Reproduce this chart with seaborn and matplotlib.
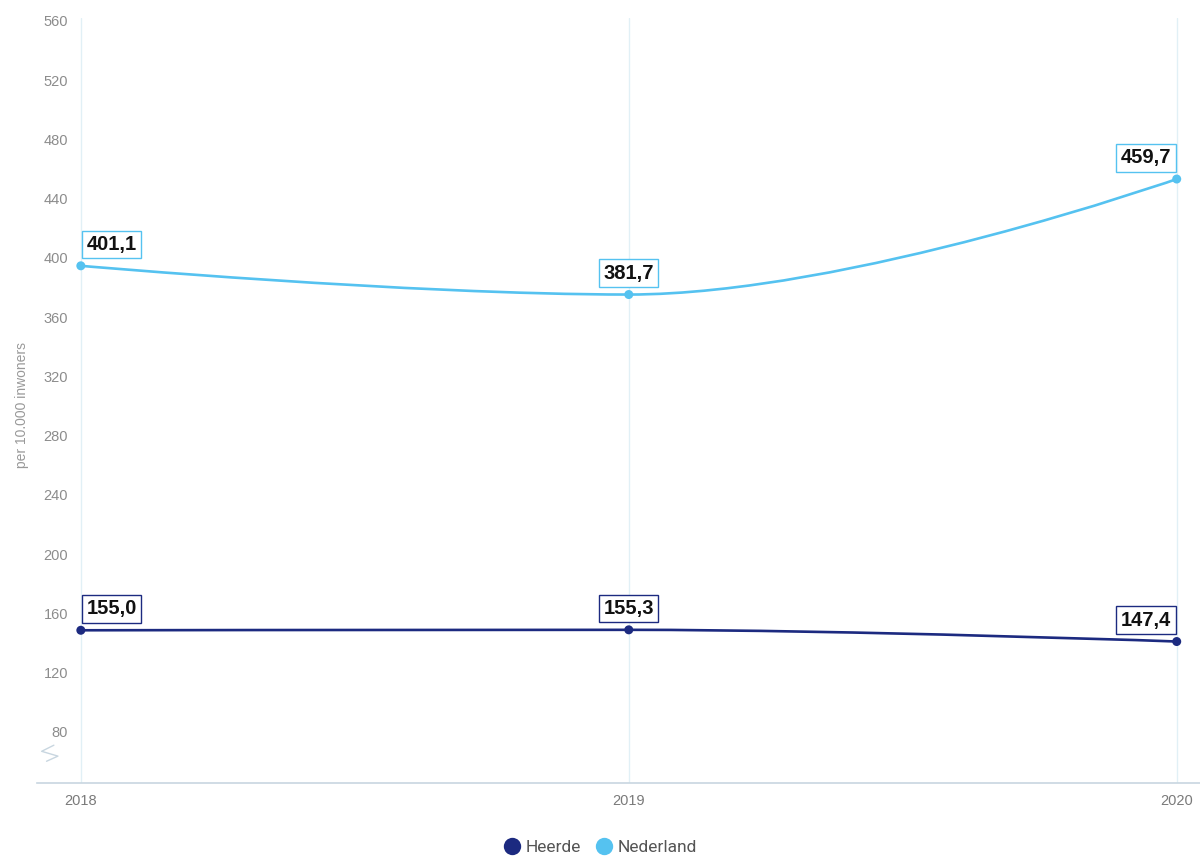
import numpy as np
import pandas as pd
import matplotlib.pyplot as plt
from matplotlib.path import Path
from matplotlib.patches import PathPatch
from matplotlib.lines import Line2D
import seaborn as sns


# Data
jaren = [2018, 2019, 2020]
heerde = [155.0, 155.3, 147.4]
nederland = [401.1, 381.7, 459.7]
y_ticks = [80, 120, 160, 200, 240, 280, 320, 360, 400, 440, 480, 520, 560]

# de y-as in het origineel is gebroken, daardoor staan de labels iets verschoven
as_verschuiving = 6.5

kleuren = {'Heerde': '#1c2a80', 'Nederland': '#55c2f0'}

df = pd.DataFrame({
    'jaar': jaren * 2,
    'waarde': heerde + nederland,
    'regio': ['Heerde'] * 3 + ['Nederland'] * 3,
})


def spline_path(xs, ys, smoothing=1.5):
    # vloeiende lijn zoals Highcharts 'spline'
    n = len(xs)
    left = [(x, y) for x, y in zip(xs, ys)]
    right = [(x, y) for x, y in zip(xs, ys)]
    denom = smoothing + 1
    for i in range(1, n - 1):
        px, py = xs[i], ys[i]
        lx, ly = xs[i - 1], ys[i - 1]
        nx, ny = xs[i + 1], ys[i + 1]
        lcx = (smoothing * px + lx) / denom
        lcy = (smoothing * py + ly) / denom
        rcx = (smoothing * px + nx) / denom
        rcy = (smoothing * py + ny) / denom
        if rcx != lcx:
            corr = ((rcy - lcy) * (rcx - px)) / (rcx - lcx) + py - rcy
            lcy += corr
            rcy += corr
        if lcy > ly and lcy > py:
            lcy = max(ly, py)
            rcy = 2 * py - lcy
        elif lcy < ly and lcy < py:
            lcy = min(ly, py)
            rcy = 2 * py - lcy
        if rcy > ny and rcy > py:
            rcy = max(ny, py)
            lcy = 2 * py - rcy
        elif rcy < ny and rcy < py:
            rcy = min(ny, py)
            lcy = 2 * py - rcy
        left[i] = (lcx, lcy)
        right[i] = (rcx, rcy)
    verts = [(xs[0], ys[0])]
    codes = [Path.MOVETO]
    for i in range(1, n):
        verts += [right[i - 1], left[i], (xs[i], ys[i])]
        codes += [Path.CURVE4] * 3
    return Path(verts, codes)


sns.set_style('white')
plt.rcParams['font.family'] = ['Liberation Sans', 'DejaVu Sans']

fig = plt.figure(figsize=(12, 8.58), dpi=100)
ax = fig.add_axes([37 / 1200, 0.0878, 1 - 37 / 1200, 0.891])

# lijnen
for regio, waarden in [('Heerde', heerde), ('Nederland', nederland)]:
    pad = spline_path(jaren, waarden)
    ax.add_patch(PathPatch(pad, facecolor='none', edgecolor=kleuren[regio],
                           lw=1.9, zorder=3, capstyle='round'))

# punten
sns.scatterplot(data=df, x='jaar', y='waarde', hue='regio', palette=kleuren,
                s=42, edgecolor='none', legend=False, zorder=4, ax=ax)

# waardelabels
for regio, waarden in [('Heerde', heerde), ('Nederland', nederland)]:
    for i, (j, w) in enumerate(zip(jaren, waarden)):
        ha = 'left' if i == 0 else ('right' if i == len(jaren) - 1 else 'center')
        dx = 4 if i == 0 else (-4 if i == len(jaren) - 1 else 0)
        ax.annotate(f'{w:.1f}'.replace('.', ','), (j, w), xytext=(dx, 8.5),
                    textcoords='offset points', ha=ha, va='bottom',
                    fontsize=14.5, fontweight='bold', color='#111111', zorder=5,
                    bbox=dict(boxstyle='square,pad=0.22', fc='white',
                              ec=kleuren[regio], lw=1.0))

ax.set_xlim(2017.920, 2020.0425)
ax.set_ylim(45.6 + as_verschuiving, 561.8 + as_verschuiving)

ax.set_xticks(jaren)
ax.set_xticklabels([str(j) for j in jaren])
ax.set_yticks([t + as_verschuiving for t in y_ticks])
ax.set_yticklabels([str(t) for t in y_ticks])
ax.tick_params(axis='y', length=0, pad=-22.3, labelsize=10.5, labelcolor='#8c8c8c')
ax.tick_params(axis='x', length=0, pad=8, labelsize=10.5, labelcolor='#7a7a7a')
for lbl in ax.get_yticklabels():
    lbl.set_horizontalalignment('right')

ax.grid(True, axis='x', color='#e1f0f6', lw=1.0)
ax.grid(False, axis='y')
for kant in ['top', 'right', 'left']:
    ax.spines[kant].set_visible(False)
ax.spines['bottom'].set_color('#c8d6e0')
ax.spines['bottom'].set_linewidth(1.2)
ax.set_xlabel('')
ax.set_ylabel('')

# teken voor gebroken as
zz_x = np.array([0.75, 0.0, 1.0, 0.3]) * 0.014 + 0.004
zz_y = np.array([1.0, 0.62, 0.32, 0.0]) * 0.021 + 0.028
ax.plot(zz_x, zz_y, transform=ax.transAxes, color='#c8d6e0', lw=1.0, clip_on=False)

fig.text(22 / 1200, 1 - 405 / 858, 'per 10.000 inwoners', rotation=90,
         ha='center', va='center', fontsize=10, color='#999999')

# legenda
handles = [Line2D([0], [0], marker='o', color='none', markerfacecolor=kleuren[r],
                  markeredgecolor='none', markersize=12.5, label=r)
           for r in ['Heerde', 'Nederland']]
fig.legend(handles=handles, loc='center', bbox_to_anchor=(0.5, 1 - 847 / 858),
           ncol=2, frameon=False, handletextpad=0.3, columnspacing=0.8,
           prop={'family': ['Roboto', 'DejaVu Sans'], 'size': 12.5},
           labelcolor='#555555', handlelength=1.0)

fig.savefig('out.png', dpi=100)
